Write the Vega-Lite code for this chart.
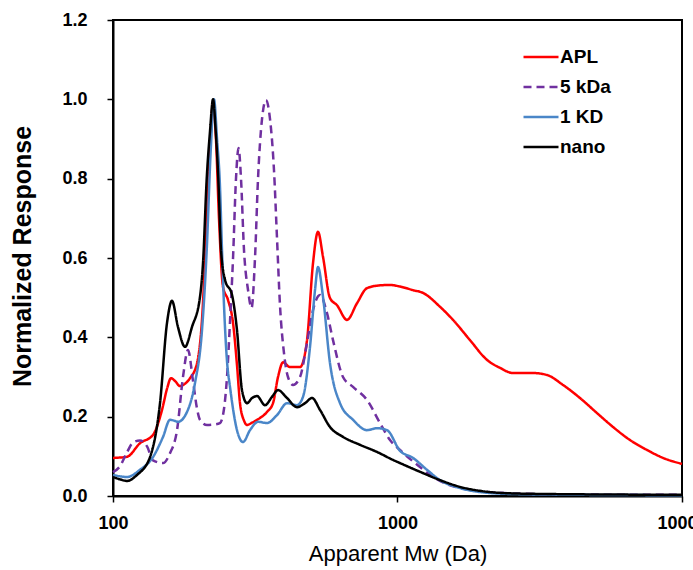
{
  "$schema": "https://vega.github.io/schema/vega-lite/v6.json",
  "width": 569,
  "height": 476,
  "autosize": "none",
  "padding": {"left": 113, "top": 20, "right": 11, "bottom": 74},
  "config": {
    "font": "Liberation Sans",
    "view": {"stroke": "black", "strokeWidth": 2},
    "axis": {"grid": false, "domainColor": "black", "domainWidth": 2, "tickColor": "black", "tickWidth": 1.5, "labelColor": "black", "titleColor": "black", "labelFlush": false, "labelOverlap": false}
  },
  "data": {"values": [
    {"s":"APL","mw":100,"r":0.096},{"s":"APL","mw":112.0,"r":0.099},{"s":"APL","mw":124.4,"r":0.133},{"s":"APL","mw":138.2,"r":0.154},
    {"s":"APL","mw":148.7,"r":0.217},{"s":"APL","mw":154.8,"r":0.27},{"s":"APL","mw":159.9,"r":0.297},{"s":"APL","mw":165.2,"r":0.29},
    {"s":"APL","mw":172.0,"r":0.277},{"s":"APL","mw":179.1,"r":0.283},{"s":"APL","mw":186.5,"r":0.297},{"s":"APL","mw":197.4,"r":0.335},
    {"s":"APL","mw":205.5,"r":0.444},{"s":"APL","mw":212.3,"r":0.65},{"s":"APL","mw":219.3,"r":0.88},{"s":"APL","mw":224.7,"r":0.99},
    {"s":"APL","mw":230.1,"r":0.9},{"s":"APL","mw":235.8,"r":0.7},{"s":"APL","mw":243.6,"r":0.527},{"s":"APL","mw":253.7,"r":0.494},
    {"s":"APL","mw":264.2,"r":0.436},{"s":"APL","mw":272.8,"r":0.33},{"s":"APL","mw":279.5,"r":0.234},{"s":"APL","mw":288.7,"r":0.19},
    {"s":"APL","mw":295.8,"r":0.179},{"s":"APL","mw":308.2,"r":0.185},{"s":"APL","mw":320.8,"r":0.192},{"s":"APL","mw":347.8,"r":0.212},
    {"s":"APL","mw":365.1,"r":0.234},{"s":"APL","mw":380.2,"r":0.3},{"s":"APL","mw":395.9,"r":0.337},{"s":"APL","mw":418.9,"r":0.325},
    {"s":"APL","mw":454.3,"r":0.325},{"s":"APL","mw":480.8,"r":0.393},{"s":"APL","mw":504.7,"r":0.587},{"s":"APL","mw":525.5,"r":0.666},
    {"s":"APL","mw":547.2,"r":0.603},{"s":"APL","mw":579.0,"r":0.499},{"s":"APL","mw":612.8,"r":0.481},{"s":"APL","mw":664.6,"r":0.444},
    {"s":"APL","mw":720.5,"r":0.486},{"s":"APL","mw":781.3,"r":0.524},{"s":"APL","mw":868.0,"r":0.531},{"s":"APL","mw":941.3,"r":0.532},
    {"s":"APL","mw":1020.5,"r":0.528},{"s":"APL","mw":1133.5,"r":0.519},{"s":"APL","mw":1229.2,"r":0.512},{"s":"APL","mw":1410.8,"r":0.477},
    {"s":"APL","mw":1567.3,"r":0.444},{"s":"APL","mw":1797.9,"r":0.393},{"s":"APL","mw":2063.7,"r":0.343},{"s":"APL","mw":2292.5,"r":0.323},
    {"s":"APL","mw":2547,"r":0.31},{"s":"APL","mw":2994,"r":0.31},{"s":"APL","mw":3354,"r":0.305},{"s":"APL","mw":3817,"r":0.28},
    {"s":"APL","mw":4380,"r":0.247},{"s":"APL","mw":5027,"r":0.209},{"s":"APL","mw":5722,"r":0.174},{"s":"APL","mw":6567,"r":0.141},
    {"s":"APL","mw":7534,"r":0.116},{"s":"APL","mw":8577,"r":0.096},{"s":"APL","mw":10000,"r":0.081},

    {"s":"5 kDa","mw":100,"r":0.06},{"s":"5 kDa","mw":105.8,"r":0.075},{"s":"5 kDa","mw":112.0,"r":0.11},{"s":"5 kDa","mw":117.6,"r":0.135},
    {"s":"5 kDa","mw":124.4,"r":0.14},{"s":"5 kDa","mw":131.7,"r":0.125},{"s":"5 kDa","mw":138.2,"r":0.09},{"s":"5 kDa","mw":149.9,"r":0.083},
    {"s":"5 kDa","mw":158.6,"r":0.108},{"s":"5 kDa","mw":167.9,"r":0.166},{"s":"5 kDa","mw":176.2,"r":0.3},{"s":"5 kDa","mw":183.5,"r":0.368},
    {"s":"5 kDa","mw":191.1,"r":0.29},{"s":"5 kDa","mw":197.4,"r":0.22},{"s":"5 kDa","mw":202.2,"r":0.192},{"s":"5 kDa","mw":214.0,"r":0.179},
    {"s":"5 kDa","mw":224.7,"r":0.18},{"s":"5 kDa","mw":237.7,"r":0.184},{"s":"5 kDa","mw":245.6,"r":0.22},{"s":"5 kDa","mw":251.6,"r":0.3},
    {"s":"5 kDa","mw":257.8,"r":0.44},{"s":"5 kDa","mw":264.2,"r":0.6},{"s":"5 kDa","mw":270.6,"r":0.8},{"s":"5 kDa","mw":276.2,"r":0.877},
    {"s":"5 kDa","mw":281.8,"r":0.8},{"s":"5 kDa","mw":288.7,"r":0.62},{"s":"5 kDa","mw":298.2,"r":0.52},{"s":"5 kDa","mw":306.9,"r":0.474},
    {"s":"5 kDa","mw":315.6,"r":0.6},{"s":"5 kDa","mw":323.4,"r":0.8},{"s":"5 kDa","mw":334.0,"r":0.95},{"s":"5 kDa","mw":345.0,"r":0.998},
    {"s":"5 kDa","mw":356.4,"r":0.95},{"s":"5 kDa","mw":368.1,"r":0.82},{"s":"5 kDa","mw":377.1,"r":0.65},{"s":"5 kDa","mw":386.4,"r":0.48},
    {"s":"5 kDa","mw":399.1,"r":0.36},{"s":"5 kDa","mw":412.2,"r":0.3},{"s":"5 kDa","mw":429.3,"r":0.28},{"s":"5 kDa","mw":454.3,"r":0.3},
    {"s":"5 kDa","mw":480.8,"r":0.386},{"s":"5 kDa","mw":504.7,"r":0.469},{"s":"5 kDa","mw":534.1,"r":0.507},{"s":"5 kDa","mw":565.2,"r":0.461},
    {"s":"5 kDa","mw":593.3,"r":0.393},{"s":"5 kDa","mw":643.4,"r":0.3},{"s":"5 kDa","mw":697.7,"r":0.275},{"s":"5 kDa","mw":781.3,"r":0.242},
    {"s":"5 kDa","mw":868.0,"r":0.184},{"s":"5 kDa","mw":941.3,"r":0.141},{"s":"5 kDa","mw":1020.5,"r":0.116},{"s":"5 kDa","mw":1199.8,"r":0.073},
    {"s":"5 kDa","mw":1332.9,"r":0.048},{"s":"5 kDa","mw":1658.6,"r":0.02},{"s":"5 kDa","mw":2292.5,"r":0.008},{"s":"5 kDa","mw":3725,"r":0.004},
    {"s":"5 kDa","mw":10000,"r":0.003},

    {"s":"1 KD","mw":100,"r":0.053},{"s":"1 KD","mw":112.0,"r":0.048},{"s":"1 KD","mw":124.4,"r":0.066},{"s":"1 KD","mw":138.2,"r":0.098},
    {"s":"1 KD","mw":149.9,"r":0.149},{"s":"1 KD","mw":158.6,"r":0.192},{"s":"1 KD","mw":163.9,"r":0.19},{"s":"1 KD","mw":169.2,"r":0.187},
    {"s":"1 KD","mw":182.0,"r":0.212},{"s":"1 KD","mw":194.2,"r":0.285},{"s":"1 KD","mw":205.5,"r":0.418},{"s":"1 KD","mw":213.5,"r":0.62},
    {"s":"1 KD","mw":220.5,"r":0.87},{"s":"1 KD","mw":226.5,"r":1.0},{"s":"1 KD","mw":232.1,"r":0.9},{"s":"1 KD","mw":237.7,"r":0.78},
    {"s":"1 KD","mw":241.6,"r":0.62},{"s":"1 KD","mw":245.6,"r":0.48},{"s":"1 KD","mw":251.6,"r":0.34},{"s":"1 KD","mw":257.8,"r":0.275},
    {"s":"1 KD","mw":272.8,"r":0.166},{"s":"1 KD","mw":286.4,"r":0.136},{"s":"1 KD","mw":303.1,"r":0.166},{"s":"1 KD","mw":323.4,"r":0.187},
    {"s":"1 KD","mw":347.8,"r":0.184},{"s":"1 KD","mw":377.1,"r":0.204},{"s":"1 KD","mw":408.9,"r":0.234},{"s":"1 KD","mw":443.3,"r":0.229},
    {"s":"1 KD","mw":465.4,"r":0.25},{"s":"1 KD","mw":492.6,"r":0.376},{"s":"1 KD","mw":512.9,"r":0.519},{"s":"1 KD","mw":525.5,"r":0.577},
    {"s":"1 KD","mw":547.2,"r":0.502},{"s":"1 KD","mw":579.0,"r":0.335},{"s":"1 KD","mw":628.0,"r":0.234},{"s":"1 KD","mw":697.7,"r":0.192},
    {"s":"1 KD","mw":781.3,"r":0.166},{"s":"1 KD","mw":847.1,"r":0.171},{"s":"1 KD","mw":918.7,"r":0.166},{"s":"1 KD","mw":1020.5,"r":0.114},
    {"s":"1 KD","mw":1133.5,"r":0.096},{"s":"1 KD","mw":1269.8,"r":0.066},{"s":"1 KD","mw":1410.8,"r":0.04},{"s":"1 KD","mw":1658.6,"r":0.02},
    {"s":"1 KD","mw":1949.8,"r":0.01},{"s":"1 KD","mw":2547,"r":0.005},{"s":"1 KD","mw":4380,"r":0.003},{"s":"1 KD","mw":10000,"r":0.002},

    {"s":"nano","mw":100,"r":0.048},{"s":"nano","mw":105.8,"r":0.042},{"s":"nano","mw":112.0,"r":0.038},{"s":"nano","mw":121.4,"r":0.053},
    {"s":"nano","mw":134.9,"r":0.098},{"s":"nano","mw":146.3,"r":0.234},{"s":"nano","mw":154.8,"r":0.436},{"s":"nano","mw":161.2,"r":0.492},
    {"s":"nano","mw":169.2,"r":0.426},{"s":"nano","mw":179.1,"r":0.376},{"s":"nano","mw":189.5,"r":0.426},{"s":"nano","mw":202.2,"r":0.502},
    {"s":"nano","mw":207.2,"r":0.587},{"s":"nano","mw":213.5,"r":0.8},{"s":"nano","mw":219.3,"r":0.92},{"s":"nano","mw":224.7,"r":1.0},
    {"s":"nano","mw":229.6,"r":0.92},{"s":"nano","mw":234.5,"r":0.8},{"s":"nano","mw":239.7,"r":0.62},{"s":"nano","mw":247.6,"r":0.545},
    {"s":"nano","mw":262.0,"r":0.507},{"s":"nano","mw":272.8,"r":0.418},{"s":"nano","mw":284.0,"r":0.267},{"s":"nano","mw":295.8,"r":0.234},
    {"s":"nano","mw":308.2,"r":0.247},{"s":"nano","mw":320.8,"r":0.252},{"s":"nano","mw":342.2,"r":0.229},{"s":"nano","mw":362.2,"r":0.25},
    {"s":"nano","mw":380.2,"r":0.267},{"s":"nano","mw":408.9,"r":0.247},{"s":"nano","mw":443.3,"r":0.224},{"s":"nano","mw":473.1,"r":0.234},
    {"s":"nano","mw":500.7,"r":0.247},{"s":"nano","mw":534.1,"r":0.217},{"s":"nano","mw":579.0,"r":0.174},{"s":"nano","mw":643.4,"r":0.149},
    {"s":"nano","mw":738.3,"r":0.129},{"s":"nano","mw":847.1,"r":0.111},{"s":"nano","mw":964.2,"r":0.091},{"s":"nano","mw":1020.5,"r":0.083},
    {"s":"nano","mw":1199.8,"r":0.061},{"s":"nano","mw":1410.8,"r":0.04},{"s":"nano","mw":1658.6,"r":0.023},{"s":"nano","mw":1949.8,"r":0.013},
    {"s":"nano","mw":2426.3,"r":0.007},{"s":"nano","mw":3354,"r":0.005},{"s":"nano","mw":10000,"r":0.003}
  ]},
  "mark": {"type": "line", "strokeWidth": 2.5, "interpolate": "monotone"},
  "encoding": {
    "x": {
      "field": "mw", "type": "quantitative",
      "scale": {"type": "log", "domain": [100, 10000]},
      "axis": {
        "title": "Apparent Mw (Da)", "values": [100, 1000, 10000], "format": "d",
        "tickSize": 6, "labelFontSize": 18, "labelFontWeight": "bold", "labelPadding": 12,
        "titleFontSize": 22, "titleFontWeight": "normal", "titlePadding": 11
      }
    },
    "y": {
      "field": "r", "type": "quantitative",
      "scale": {"domain": [0, 1.2]},
      "axis": {
        "title": "Normalized Response", "values": [0, 0.2, 0.4, 0.6, 0.8, 1.0, 1.2], "format": ".1f",
        "tickSize": 6, "labelFontSize": 18, "labelFontWeight": "bold", "labelPadding": 20,
        "titleFontSize": 25, "titleFontWeight": "bold", "titleX": -78, "titleY": 236
      }
    },
    "color": {
      "field": "s", "type": "nominal", "sort": null,
      "scale": {"domain": ["APL", "5 kDa", "1 KD", "nano"], "range": ["#FF0000", "#7030A0", "#4A86C8", "#000000"]},
      "legend": {"title": null, "orient": "none", "legendX": 409, "legendY": 18, "symbolType": "stroke", "symbolSize": 1225, "symbolStrokeWidth": 2.5, "rowPadding": 1, "labelFontSize": 19, "labelFontWeight": "bold", "labelColor": "black", "labelOffset": 0}
    },
    "strokeDash": {
      "field": "s", "type": "nominal", "sort": null,
      "scale": {"domain": ["APL", "5 kDa", "1 KD", "nano"], "range": [[1, 0], [8, 5], [1, 0], [1, 0]]},
      "legend": {"title": null, "orient": "none", "legendX": 409, "legendY": 18, "symbolType": "stroke", "symbolSize": 1225, "symbolStrokeWidth": 2.5, "rowPadding": 1, "labelFontSize": 19, "labelFontWeight": "bold", "labelColor": "black", "labelOffset": 0}
    }
  }
}
